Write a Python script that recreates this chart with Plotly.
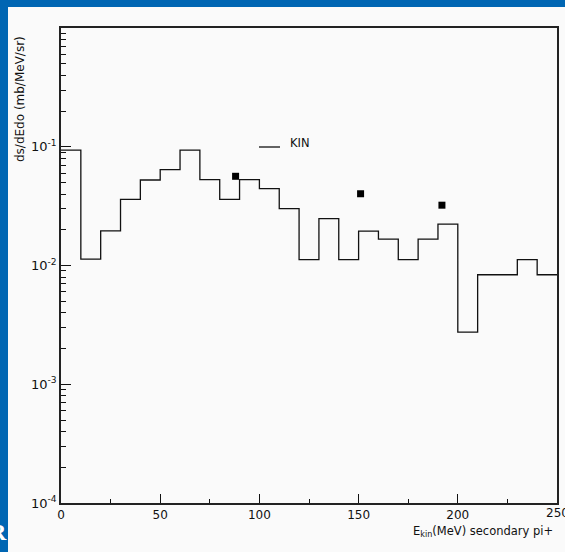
import plotly.graph_objects as go

# Histogram: 10 MeV bins from 0 to 250 MeV
bin_edges = [0, 10, 20, 30, 40, 50, 60, 70, 80, 90, 100, 110, 120, 130, 140,
             150, 160, 170, 180, 190, 200, 210, 220, 230, 240, 250]
kin_values = [0.0938, 0.0113, 0.0196, 0.0361, 0.0525, 0.0641, 0.0938, 0.0528,
              0.0361, 0.0528, 0.0444, 0.0301, 0.0112, 0.0248, 0.0112, 0.0195,
              0.0167, 0.0112, 0.0167, 0.0223, 0.00275, 0.00836, 0.00836,
              0.0112, 0.00836]

# Measured points
data_x = [88, 151, 192]
data_y = [0.0564, 0.0402, 0.0322]

x_major = [0, 50, 100, 150, 200, 250]
x_major_text = ["0", "50", "100", "150", "200", "250"]
x_minor = [25, 75, 125, 175, 225]
y_major = [1e-4, 1e-3, 1e-2, 1e-1, 1]
y_major_text = ["10<sup>-4</sup>", "10<sup>-3</sup>", "10<sup>-2</sup>",
                "10<sup>-1</sup>", ""]
y_minor = [m * 10.0 ** e for e in range(-4, 0) for m in range(2, 10)]

W, H = 565, 552
L, R, T, B = 61, 8, 28, 49
BLUE = "#0066b3"
BG = "#fafafa"
FONT = "DejaVu Sans, Liberation Sans, sans-serif"

step_x = bin_edges[:-1] + [bin_edges[-1]]
step_y = kin_values + [kin_values[-1]]

fig = go.Figure()
fig.add_trace(go.Scatter(
    x=step_x, y=step_y, mode="lines", line=dict(shape="hv", color="#111", width=1.3),
    showlegend=False, hoverinfo="skip"))
fig.add_trace(go.Scatter(
    x=data_x, y=data_y, mode="markers",
    marker=dict(symbol="square", size=7, color="black"),
    showlegend=False))

pw, ph = W - L - R, H - T - B


def px(xp):
    return (xp - L) / pw


def py(yp):
    return (H - B - yp) / ph


shapes = [
    # blue frame strips
    dict(type="rect", xref="paper", yref="paper", x0=px(-2), x1=px(8), y0=py(H + 2), y1=py(-2),
         fillcolor=BLUE, line=dict(width=0), layer="below"),
    dict(type="rect", xref="paper", yref="paper", x0=px(-2), x1=px(W + 2), y0=py(7), y1=py(-2),
         fillcolor=BLUE, line=dict(width=0), layer="below"),
    # legend sample line
    dict(type="line", xref="paper", yref="paper", x0=px(259), x1=px(280), y0=py(147), y1=py(147),
         line=dict(color="#111", width=1.3)),
]

annotations = [
    dict(text="KIN", xref="paper", yref="paper", x=px(288), y=py(143), xanchor="left",
         yanchor="middle", showarrow=False, font=dict(family=FONT, size=11.5, color="#111")),
    dict(text="ds/dEdo (mb/MeV/sr)", xref="paper", yref="paper", x=px(20), y=py(99),
         textangle=-90, xanchor="center", yanchor="middle", showarrow=False,
         font=dict(family=FONT, size=12, color="#111")),
    dict(text="E<sub>kin</sub>(MeV) secondary pi+", xref="paper", yref="paper", x=px(555), y=py(531),
         xanchor="right", yanchor="middle", showarrow=False,
         font=dict(family=FONT, size=11.5, color="#111")),
    # last x tick label sits on the right frame edge and runs off the page
    dict(text=x_major_text[-1], xref="x", yref="paper", x=x_major[-1], y=py(513),
         xanchor="center", yanchor="middle", showarrow=False,
         font=dict(family=FONT, size=12, color="#111")),
    dict(text="<b>R</b>", xref="paper", yref="paper", x=px(9), y=py(532), xanchor="right",
         yanchor="middle", showarrow=False,
         font=dict(family="Liberation Serif, serif", size=24, color="white")),
]

fig.update_layout(
    width=W, height=H,
    margin=dict(l=L, r=R, t=T, b=B, pad=0, autoexpand=False),
    paper_bgcolor=BG, plot_bgcolor=BG,
    shapes=shapes, annotations=annotations,
    font=dict(family=FONT, size=12, color="#111"),
    xaxis=dict(
        range=[0, 250], tickvals=x_major[:-1], ticktext=x_major_text[:-1],
        ticks="inside", ticklen=9, tickcolor="#111", tickwidth=1.2, automargin=False,
        minor=dict(tickvals=x_minor + [x_major[-1]], ticks="inside", ticklen=4,
                   tickcolor="#111", tickwidth=1.2),
        showline=True, linecolor="#222", linewidth=1.5, mirror=True,
        showgrid=False, zeroline=False, tickfont=dict(size=12)),
    yaxis=dict(
        type="log", range=[-4, 0], tickvals=y_major, ticktext=y_major_text,
        ticks="inside", ticklen=10, tickcolor="#111", tickwidth=1.2, automargin=False,
        minor=dict(tickvals=y_minor, ticks="inside", ticklen=5, tickcolor="#111", tickwidth=1.2),
        showline=True, linecolor="#222", linewidth=1.5, mirror=True,
        showgrid=False, zeroline=False, tickfont=dict(size=13)),
)

fig.write_html("out.html")
